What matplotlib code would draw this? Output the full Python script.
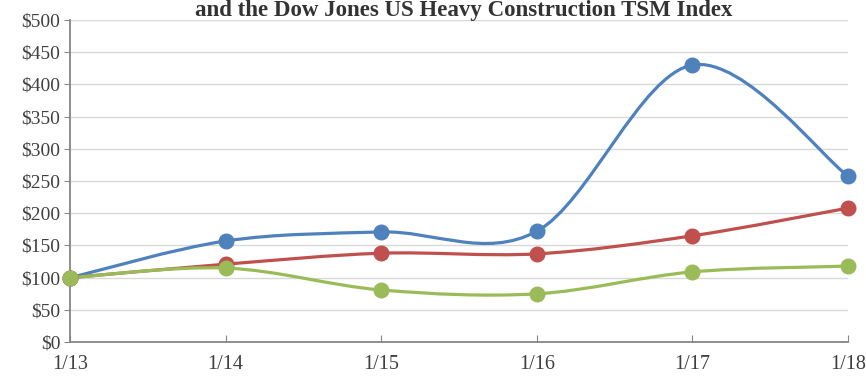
import matplotlib
matplotlib.use("Agg")
import matplotlib.pyplot as plt
import numpy as np
from matplotlib.path import Path
from matplotlib.patches import PathPatch

categories = ["1/13", "1/14", "1/15", "1/16", "1/17", "1/18"]
company = [100, 157, 171, 172, 430, 258]
sp500 = [100, 121, 138, 137, 165, 208]
heavy = [100, 115, 81, 75, 109, 118]
yticks = [0, 50, 100, 150, 200, 250, 300, 350, 400, 450, 500]

colors = ["#4F81BD", "#C0504D", "#9BBB59"]

plt.rcParams['font.family'] = ['Liberation Serif', 'DejaVu Serif']

fig = plt.figure(figsize=(8.66, 3.76), dpi=100)
ax = fig.add_axes([0.081, 0.090, 0.898, 0.857])

x = np.arange(len(categories))


def smooth_path(xs, ys):
    pts = np.column_stack([xs, ys]).astype(float)
    n = len(pts)
    verts = [pts[0]]
    codes = [Path.MOVETO]
    for i in range(n - 1):
        p0 = pts[i - 1] if i > 0 else pts[i]
        p1 = pts[i]
        p2 = pts[i + 1]
        p3 = pts[i + 2] if i + 2 < n else pts[i + 1]
        c1 = p1 + (p2 - p0) / 6.0
        c2 = p2 - (p3 - p1) / 6.0
        verts += [c1, c2, p2]
        codes += [Path.CURVE4] * 3
    return Path(verts, codes)


for ys, c in zip([company, sp500, heavy], colors):
    patch = PathPatch(smooth_path(x, ys), facecolor="none", edgecolor=c,
                      lw=2.3, zorder=3, clip_on=False)
    ax.add_patch(patch)
    ax.plot(x, ys, linestyle="none", marker="o", markersize=10.5, color=c,
            zorder=4, clip_on=False)

ax.set_xlim(0, 5)
ax.set_ylim(0, 500)
ax.set_yticks(yticks)
ax.set_yticklabels([f"${v}" for v in yticks])
ax.set_xticks(x)
ax.set_xticklabels(categories)
ax.yaxis.grid(True, color="#D9D9D9", lw=1.0)
ax.set_axisbelow(True)
for s in ["top", "right"]:
    ax.spines[s].set_visible(False)
for s in ["left", "bottom"]:
    ax.spines[s].set_color("#868686")
    ax.spines[s].set_linewidth(1.3)
ax.tick_params(axis="y", colors="#868686", labelcolor="#404040",
               labelsize=14, length=4, pad=3)
ax.tick_params(axis="x", colors="#868686", labelcolor="#404040",
               labelsize=14.5, length=5, direction="in", pad=9)

fig.text(0.535, 1.0, "and the Dow Jones US Heavy Construction TSM Index",
         ha="center", va="top", fontsize=16.5, fontweight="bold", color="#333333")

fig.savefig("out.png", dpi=100)
